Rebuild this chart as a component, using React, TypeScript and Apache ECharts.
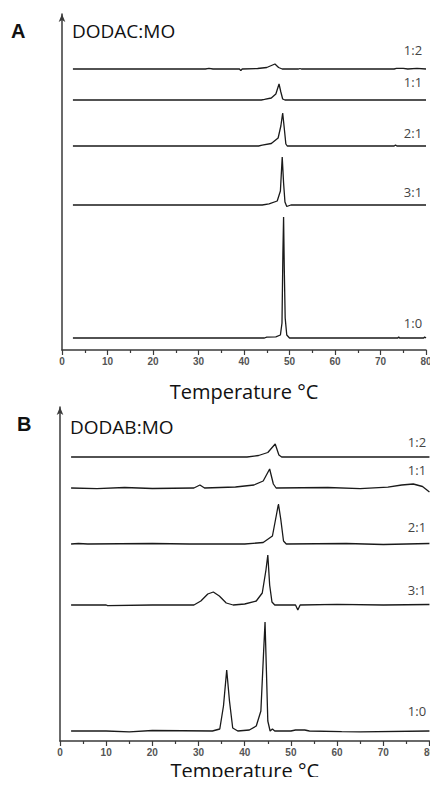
import React, { useEffect, useRef } from "react";
import * as echarts from "echarts";

// Tick values for temperature axes
const tempTicks = [0, 10, 20, 30, 40, 50, 60, 70, 80];

// Panel A: DODAC:MO — each trace [temperature °C, signal]
const ratiosA = ["1:2", "1:1", "2:1", "3:1", "1:0"];
const offsetsA = [281, 250, 204, 145, 12];
const a12: number[][] = [[2.4, 0], [31.5, 0], [32.3, 0.6], [33.2, 0], [39, 0], [39.3, -1.6], [39.6, 0], [43, 0.5], [45, 1.5], [46.8, 5], [47.6, 1.5], [48.4, 0], [52, 0], [52.3, 0.5], [52.6, 0], [73, 0], [73.5, 0.6], [75, 0.6], [76, 0], [78, 0.6], [80, 0]];
const a11: number[][] = [[2.4, 0], [43.8, 0], [44.5, 0.6], [46, 2], [47, 6], [47.7, 16], [48.1, 8], [48.5, 1], [49, 0], [80, 0]];
const a21: number[][] = [[2.4, 0], [43.2, 0], [44, 0.8], [46, 2.5], [47.5, 8], [48.1, 20], [48.5, 33], [48.8, 20], [49.2, 2], [49.5, 0], [73, 0], [73.3, 1], [73.6, 0], [80, 0]];
const a31: number[][] = [[2.4, 0], [44, 0], [45.5, 1.2], [47.3, 4], [48, 14], [48.4, 48], [48.7, 22], [49, 3], [49.4, -1.5], [50.3, 0], [80, 0]];
const a10: number[][] = [[2.4, 0], [44.5, 0], [45, 0.8], [47, 1.2], [48, 3], [48.35, 15], [48.55, 85], [48.7, 121], [48.85, 70], [49.05, 20], [49.4, 3], [50, 0], [73.8, 0], [74, 1], [74.2, 0], [79.5, 0], [79.7, 1], [80, 0]];
const tracesA = [a12, a11, a21, a31, a10];

// Panel B: DODAB:MO
const ratiosB = ["1:2", "1:1", "2:1", "3:1", "1:0"];
const offsetsB = [284, 253, 197, 136, 10];
const b12: number[][] = [[2.4, 0], [40.5, 0], [43, 1.5], [45, 4.5], [46.6, 13], [47.4, 2], [48, 0], [80, 0]];
const b11: number[][] = [[2.4, 0], [8, -0.6], [14, 0.5], [20, -0.5], [29, 0], [30.3, 3], [31.3, 0], [38, 1], [42, 3], [44, 7], [45.4, 19], [46.2, 4], [46.8, 0], [58, 0.5], [65, -0.6], [71, 0.8], [74, 3], [76.5, 4], [78.5, 1.5], [80, -4]];
const b21: number[][] = [[2.4, 0], [4, 0.5], [6, 0], [20, 0.5], [28, 0], [40, 0], [44, 1.5], [46, 8], [46.9, 30], [47.3, 40], [47.8, 25], [48.4, 3], [49, 0], [62, 0.5], [70, -0.5], [80, 0.5]];
const b31: number[][] = [[2.4, 0], [10, 0], [10.3, -0.6], [20, 0], [29, 0], [30.5, 4], [32, 11], [33.2, 13], [34.5, 9], [36, 2], [37.5, 0], [40, 1], [42.5, 4], [43.8, 12], [44.6, 35], [45, 50], [45.4, 20], [45.9, 3], [46.5, 0], [51, 0], [51.5, -5], [52, 0], [60, 0.6], [70, 0], [80, 0.5]];
const b10: number[][] = [[2.4, 0], [10, 0], [15, -0.8], [20, 0.5], [33, 0], [34.6, 2], [35.4, 25], [36.1, 61], [36.7, 30], [37.4, 3], [38.5, 0], [41, 1], [42.5, 5], [43.5, 20], [44.1, 80], [44.4, 109], [44.7, 60], [45, 10], [45.5, 0], [46, 2], [46.5, 0], [50, 0], [51, 1], [53, 1], [54, 0], [61, -0.6], [65, -0.8], [80, 0]];
const tracesB = [b12, b11, b21, b31, b10];

const labelYA = [50, 82, 133, 192, 323];
const labelYB = [442, 470, 527, 590, 711];

export default function App() {
  const ref = useRef<HTMLDivElement>(null);
  useEffect(() => {
    if (!ref.current) return;
    const chart = echarts.init(ref.current, undefined, { renderer: "svg" });
    const axisColor = "#3a3a3a";
    const mkX = (gridIndex: number, nameGap: number) => ({
      type: "value",
      gridIndex,
      min: tempTicks[0],
      max: tempTicks[tempTicks.length - 1],
      interval: tempTicks[1] - tempTicks[0],
      name: "Temperature °C",
      nameLocation: "middle",
      nameGap,
      nameTextStyle: { fontFamily: "Open Sans", fontSize: 20, color: "#111" },
      axisLine: { show: true, onZero: false, lineStyle: { color: axisColor, width: 1.5 } },
      axisTick: { show: true, length: 5, lineStyle: { color: axisColor, width: 1.2 } },
      minorTick: { show: true, splitNumber: 2, length: 3, lineStyle: { color: axisColor, width: 1.2 } },
      axisLabel: { fontFamily: "Liberation Sans", fontWeight: "bold", fontSize: 10, color: "#555", margin: 6 },
      splitLine: { show: false },
    });
    const mkY = (gridIndex: number, max: number) => ({
      type: "value",
      gridIndex,
      min: 0,
      max,
      axisLine: { show: true, symbol: ["none", "arrow"], symbolSize: [5, 8], lineStyle: { color: axisColor, width: 1.5 } },
      axisTick: { show: false },
      axisLabel: { show: false },
      splitLine: { show: false },
    });
    const series: any[] = [];
    tracesA.forEach((t, i) => {
      series.push({
        type: "line",
        xAxisIndex: 0,
        yAxisIndex: 0,
        name: "A " + ratiosA[i],
        showSymbol: false,
        symbol: "none",
        lineStyle: { color: "#1a1a1a", width: 1.3 },
        data: t.map((p) => [p[0], p[1] + offsetsA[i]]),
      });
    });
    tracesB.forEach((t, i) => {
      series.push({
        type: "line",
        xAxisIndex: 1,
        yAxisIndex: 1,
        name: "B " + ratiosB[i],
        showSymbol: false,
        symbol: "none",
        lineStyle: { color: "#1a1a1a", width: 1.3 },
        data: t.map((p) => [p[0], p[1] + offsetsB[i]]),
      });
    });
    const labelStyle = { fontFamily: "Open Sans", fontSize: 13, fill: "#444" };
    const graphics: any[] = [
      { type: "text", left: 11, top: 21, style: { text: "A", fontFamily: "Liberation Sans", fontWeight: "bold", fontSize: 20, fill: "#111" } },
      { type: "text", left: 72, top: 21, style: { text: "DODAC:MO", fontFamily: "Open Sans", fontSize: 19, fill: "#111" } },
      { type: "text", left: 17, top: 414, style: { text: "B", fontFamily: "Liberation Sans", fontWeight: "bold", fontSize: 20, fill: "#111" } },
      { type: "text", left: 70, top: 417, style: { text: "DODAB:MO", fontFamily: "Open Sans", fontSize: 19, fill: "#111" } },
    ];
    ratiosA.forEach((r, i) => {
      graphics.push({ type: "text", x: 413, y: labelYA[i], style: { ...labelStyle, text: r, align: "center", verticalAlign: "middle" } });
    });
    ratiosB.forEach((r, i) => {
      graphics.push({ type: "text", x: 417, y: labelYB[i], style: { ...labelStyle, text: r, align: "center", verticalAlign: "middle" } });
    });
    chart.setOption({
      animation: false,
      backgroundColor: "#ffffff",
      grid: [
        { left: 62, right: 12, top: 14, height: 336 },
        { left: 60, right: 6, top: 407, height: 334 },
      ],
      xAxis: [mkX(0, 31), mkX(1, 19)],
      yAxis: [mkY(0, 336), mkY(1, 334)],
      series,
      graphic: graphics,
    });
    return () => chart.dispose();
  }, []);
  return <div ref={ref} style={{ width: 438, height: 785, margin: -8 }} />;
}
